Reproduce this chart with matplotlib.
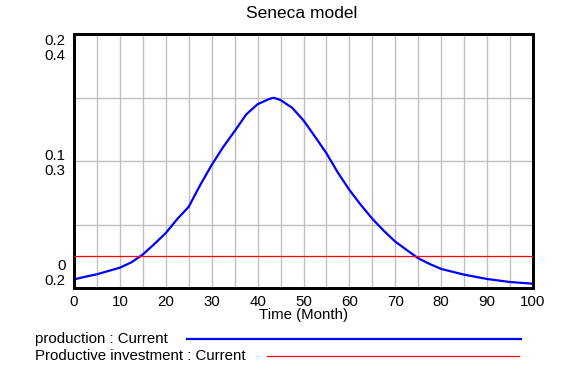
import matplotlib
matplotlib.use("Agg")
import matplotlib.pyplot as plt
from matplotlib.lines import Line2D

plt.rcParams.update({"font.family": ["Liberation Sans", "DejaVu Sans"], "font.size": 10.8})

# data
time = [0, 2.5, 5, 7.5, 10, 12.5, 15, 17.5, 20, 22.5, 25, 27.5, 30, 32.5, 35, 37.5, 40, 42.5,
        43.5, 45, 47.5, 50, 52.5, 55, 57.5, 60, 62.5, 65, 67.5, 70, 72.5, 75, 77.5, 80,
        85, 90, 95, 100]
production = [0.2068, 0.2089, 0.2108, 0.2134, 0.2160, 0.2202, 0.2264, 0.2346, 0.2433, 0.2543,
              0.2640, 0.2811, 0.2969, 0.3110, 0.3235, 0.3366, 0.3447, 0.3488,
              0.3498, 0.3480, 0.3420, 0.3320, 0.3192, 0.3061, 0.2908, 0.2772, 0.2654,
              0.2545, 0.2450, 0.2365, 0.2299, 0.2234, 0.2189, 0.2150,
              0.2105, 0.2071, 0.2047, 0.2034]
invest_time = [0, 100]
investment = [0.025, 0.025]
ytick_labels = ["0\n0.2", "0.1\n0.3", "0.2\n0.4"]

W, H = 566, 369
fig = plt.figure(figsize=(W / 100, H / 100), dpi=100)
ax = fig.add_axes([74 / W, 1 - 288 / H, (533 - 74) / W, (288 - 34) / H])
ax2 = ax.twinx()

ax.plot(time, production, color="#0000ff", lw=1.6, zorder=3)
ax2.plot(invest_time, investment, color="#ff0000", lw=0.9, zorder=3)

ax.set_xlim(0, 100)
ax.set_ylim(0.2, 0.4)
ax2.set_ylim(0, 0.2)
ax.set_xticks(range(0, 101, 10))
ax.set_xticks(range(0, 101, 5), minor=True)
ax.set_yticks([0.2, 0.25, 0.3, 0.35, 0.4])
ax.set_yticklabels([ytick_labels[0], "", ytick_labels[1], "", ytick_labels[2]], linespacing=1.1)
labs = ax.get_yticklabels()
labs[0].set_va("bottom")
labs[4].set_va("top")
for l in labs:
    l.set_ha("right")
ax.tick_params(axis="y", length=0, pad=6)
ax.tick_params(axis="x", which="both", length=0, pad=5)
ax2.set_yticks([])
ax.grid(True, which="both", color="#c0c0c0", lw=1)
for a in (ax, ax2):
    for s in a.spines.values():
        s.set_linewidth(2)
        s.set_color("black")
ax.set_zorder(2); ax2.set_zorder(3); ax2.patch.set_visible(False)

ax.set_xlabel("Time (Month)", labelpad=-1)
fig.text(302 / W, 1 - 14 / H, "Seneca model", ha="center", va="center", fontsize=12.5)

# legend below the chart
fig.text(35 / W, 1 - 339 / H, "production : Current", va="center")
fig.add_artist(Line2D([187 / W, 521 / W], [1 - 339 / H] * 2, color="#0000ff", lw=1.6))
fig.text(35 / W, 1 - 356 / H, "Productive investment : Current", va="center")
fig.add_artist(Line2D([267 / W, 519 / W], [1 - 356 / H] * 2, color="#ff0000", lw=0.9))

fig.savefig("out.png", dpi=100)
